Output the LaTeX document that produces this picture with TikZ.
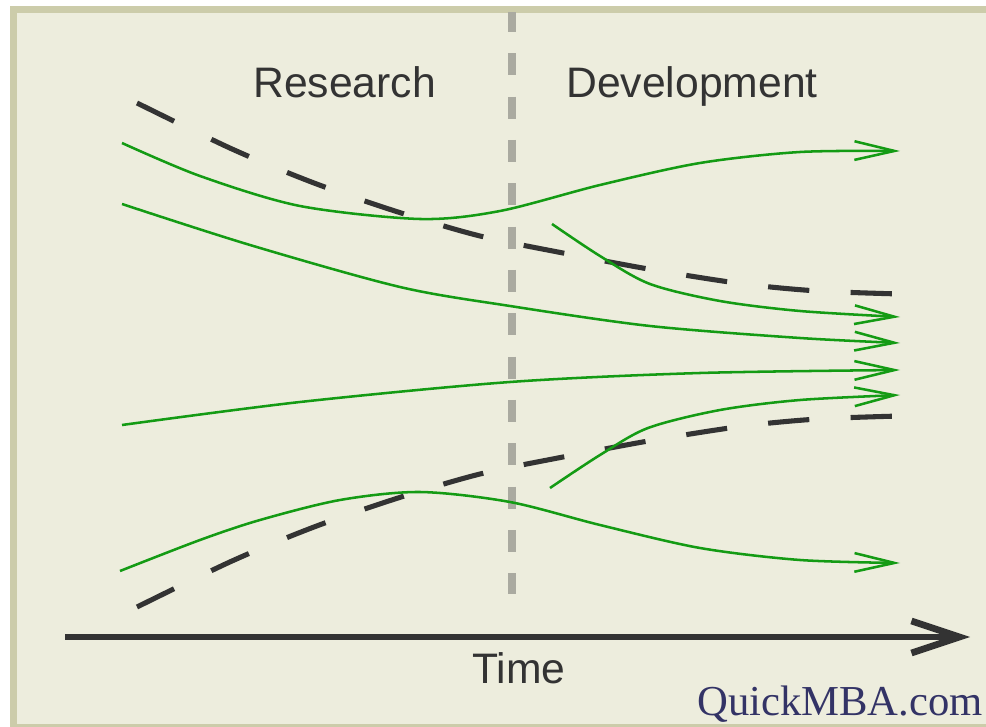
\documentclass[tikz,border=0pt]{standalone}
\usepackage{fontspec}
\setmainfont{Liberation Sans}
\newfontfamily\serifmba{Liberation Serif}
\usetikzlibrary{arrows.meta}
\definecolor{bgin}{RGB}{237,237,221}
\definecolor{bdr}{RGB}{204,204,170}
\definecolor{grn}{RGB}{20,155,20}
\definecolor{dk}{RGB}{51,51,51}
\definecolor{vgray}{RGB}{170,170,160}
\definecolor{navy}{RGB}{51,51,102}
\begin{document}
\begin{tikzpicture}[x=0.75pt,y=-0.75pt,
  flow/.style={draw=grn, line width=1.9pt, -{Straight Barb[length=30pt,width=14pt]}},
  trend/.style={draw=dk, line width=3.8pt, dash pattern=on 31pt off 31pt},
  divider/.style={draw=vgray, line width=6pt, dash pattern=on 16.5pt off 16pt},
  axisline/.style={draw=dk, line width=5pt, -{Straight Barb[length=36pt,width=24pt]}},
  label/.style={font=\fontsize{32}{38}\selectfont, text=dk, inner sep=0pt}]
\useasboundingbox (0,0) rectangle (986,727);
\fill[white] (0,0) rectangle (986,727);
\fill[bdr] (10,6) rectangle (986,727);
\fill[bgin] (17,13) rectangle (986,724);

% phase divider
\coordinate (d0) at (512,10);
\coordinate (d1) at (512,594);
\begin{scope}
\clip (17,13) rectangle (986,724);
\draw[divider] (d0) -- (d1);
\end{scope}

% dashed trend lines
\draw[trend] plot[smooth] coordinates {(137,103) (232,149) (314,183) (398,212) (480,236) (563,253) (654,270) (744,284) (818,291) (900,294)};
\draw[trend] plot[smooth] coordinates {(137,607) (232,561) (314,527) (398,498) (480,474) (563,457) (654,440) (744,426) (818,419) (900,416)};

% green flows
\draw[flow] plot[smooth] coordinates {(122,143) (200,176) (300,206) (420,219) (500,211) (600,185) (700,163) (800,152) (900,151)};
\draw[flow] plot[smooth] coordinates {(122,204) (250,245) (400,287) (510,306) (650,326) (800,338) (900,343)};
\draw[flow] plot[smooth] coordinates {(552,224) (600,256) (650,284) (720,301) (800,311) (900,317)};
\draw[flow] plot[smooth] coordinates {(122,425) (300,402) (510,382) (700,373) (900,370)};
\draw[flow] plot[smooth] coordinates {(550,488) (600,455) (648,428) (720,410) (800,400) (900,395)};
\draw[flow] plot[smooth] coordinates {(120,571) (200,540) (260,520) (340,500) (420,492) (510,502) (600,525) (700,548) (800,560) (900,563)};

% time axis
\coordinate (t0) at (65,637);
\coordinate (t1) at (970,637);
\draw[axisline] (t0) -- (t1);

% labels
\node[label, anchor=base west] (research) at (253,98) {Research};
\node[label, anchor=base west] (development) at (566,98) {Development};
\node[label, anchor=base west] (time) at (472,683) {Time};
\node[inner sep=0pt, anchor=base west, text=navy, font=\serifmba\fontsize{32}{38}\selectfont] (brand) at (697,715) {QuickMBA.com};
\end{tikzpicture}
\end{document}
